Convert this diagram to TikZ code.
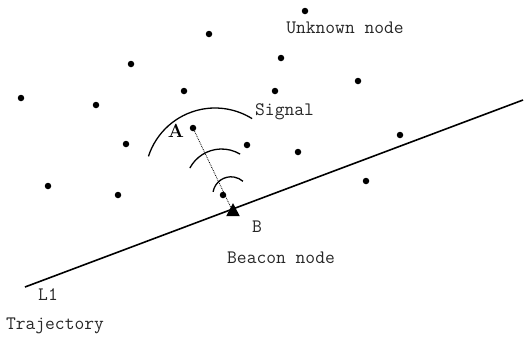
\documentclass[tikz,border=0pt]{standalone}
\usetikzlibrary{shapes.geometric}
\begin{document}
\begin{tikzpicture}[x=1pt,y=-1pt,
  dot/.style={circle,fill=black,inner sep=0pt,minimum size=6.5pt},
  lbl/.style={font=\fontsize{19}{21}\selectfont\ttfamily,inner sep=0pt,text=black!85},
  traj/.style={line width=1.6pt},
  wave/.style={line width=1.3pt},
  beacon/.style={isosceles triangle,isosceles triangle apex angle=55,shape border rotate=90,fill=black,inner sep=0pt,minimum height=13pt,minimum width=13pt}]
\useasboundingbox (0,0) rectangle (524,338);
% unknown nodes
\node[dot] (n1) at (305,11) {};
\node[dot] (n2) at (209,34) {};
\node[dot] (n3) at (131,64) {};
\node[dot] (n4) at (281,58) {};
\node[dot] (n5) at (21,98) {};
\node[dot] (n6) at (96,105) {};
\node[dot] (n7) at (184,91) {};
\node[dot] (n8) at (275,91) {};
\node[dot] (n9) at (358,81) {};
\node[dot] (A) at (193,128) {};
\node[dot] (n11) at (126,144) {};
\node[dot] (n12) at (247,145) {};
\node[dot] (n13) at (298,152) {};
\node[dot] (n14) at (400,135) {};
\node[dot] (n15) at (48,186) {};
\node[dot] (n16) at (118,195) {};
\node[dot] (n17) at (366,181) {};
\node[dot] (n18) at (223,195) {};
% trajectory
\coordinate (L0) at (25,287);
\coordinate (L1) at (523,100);
\draw[traj] (L0) -- (L1);
% beacon
\node[beacon] (B) at (233,212) {};
\draw[densely dotted,line width=0.8pt] (A.center) -- (B.center);
% signal arcs
\draw[wave] (215,178) ++(-162:70) arc[start angle=-162,end angle=-58,radius=70];
\draw[wave] (221.6,185) ++(-152:36) arc[start angle=-152,end angle=-59,radius=36];
\draw[wave] (231,195) ++(-170:18.2) arc[start angle=-170,end angle=-49,radius=18.2];
% labels
\node[lbl] (tu) at (345,28) {Unknown node};
\node[lbl,anchor=west] (ts) at (255,112) {Signal};
\node[font=\fontsize{19}{21}\selectfont\bfseries,inner sep=0pt] (ta) at (176,131) {A};
\node[lbl] (tb) at (257,227) {B};
\node[lbl] (tbn) at (281,258) {Beacon node};
\node[lbl] (tl) at (48,295) {L1};
\node[lbl] (tt) at (55,326) {Trajectory};
\end{tikzpicture}
\end{document}
